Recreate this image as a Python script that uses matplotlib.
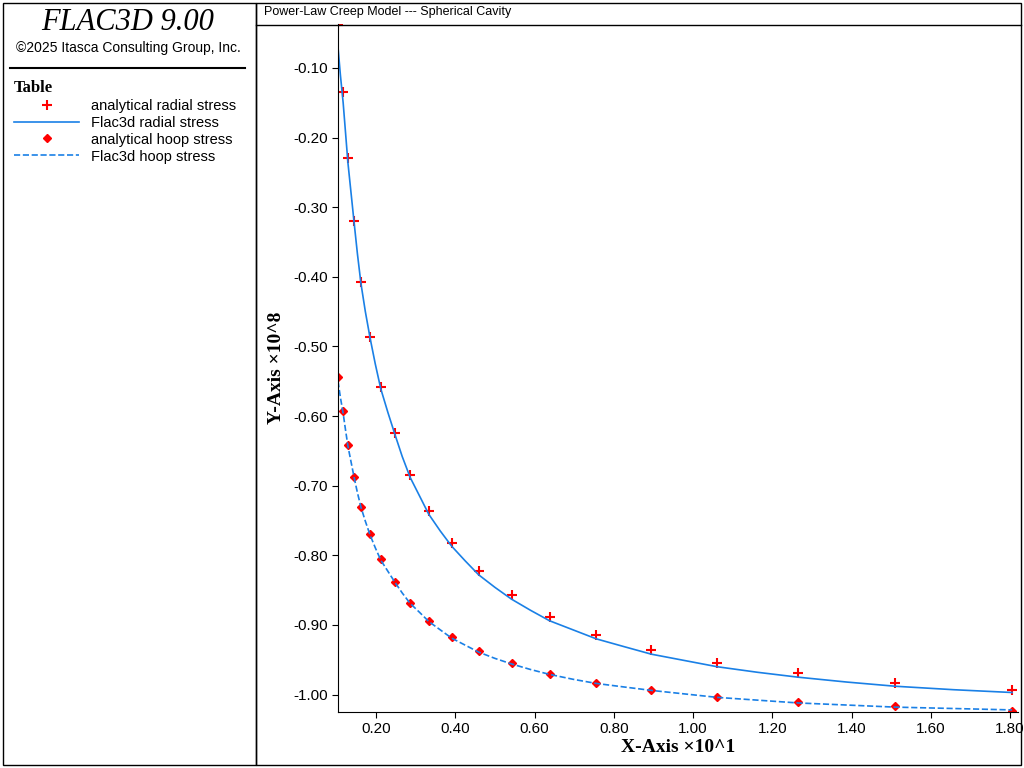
import matplotlib
matplotlib.use('Agg')
import matplotlib.pyplot as plt
from matplotlib.patches import Rectangle

matplotlib.rcParams['font.family'] = 'Liberation Sans'

# x in units of 10^1, stress in units of 10^8
x_analytical = [0.104, 0.117, 0.129, 0.145, 0.162, 0.185, 0.212, 0.248, 0.286, 0.333,
                0.391, 0.459, 0.542, 0.638, 0.756, 0.895, 1.061, 1.265, 1.510, 1.805]
radial_analytical = [-0.038, -0.135, -0.229, -0.320, -0.408, -0.486, -0.559, -0.625, -0.685, -0.737,
                     -0.782, -0.822, -0.857, -0.889, -0.915, -0.936, -0.955, -0.969, -0.984, -0.993]
hoop_analytical = [-0.544, -0.593, -0.641, -0.688, -0.730, -0.770, -0.806, -0.838, -0.868, -0.894,
                   -0.918, -0.938, -0.955, -0.970, -0.983, -0.993, -1.003, -1.010, -1.017, -1.023]

x_flac = [0.104, 0.110, 0.117, 0.123, 0.129, 0.137, 0.145, 0.153, 0.162, 0.173, 0.185, 0.198,
          0.212, 0.230, 0.248, 0.266, 0.286, 0.310, 0.333, 0.362, 0.391, 0.425, 0.459, 0.500,
          0.542, 0.590, 0.638, 0.697, 0.756, 0.825, 0.895, 0.978, 1.061, 1.163, 1.265, 1.388,
          1.510, 1.658, 1.805]
radial_flac = [-0.070, -0.110, -0.150, -0.193, -0.236, -0.280, -0.324, -0.367, -0.410, -0.450,
               -0.488, -0.525, -0.561, -0.595, -0.627, -0.658, -0.688, -0.715, -0.741, -0.765,
               -0.787, -0.808, -0.828, -0.846, -0.863, -0.879, -0.894, -0.907, -0.920, -0.931,
               -0.942, -0.951, -0.960, -0.968, -0.975, -0.982, -0.988, -0.993, -0.997]
hoop_flac = [-0.550, -0.573, -0.596, -0.620, -0.643, -0.666, -0.689, -0.710, -0.731, -0.751,
             -0.771, -0.789, -0.807, -0.823, -0.839, -0.854, -0.869, -0.882, -0.895, -0.907,
             -0.919, -0.929, -0.939, -0.948, -0.956, -0.964, -0.971, -0.978, -0.984, -0.989,
             -0.994, -0.999, -1.004, -1.008, -1.012, -1.015, -1.018, -1.020, -1.022]

x_ticks = [0.2, 0.4, 0.6, 0.8, 1.0, 1.2, 1.4, 1.6, 1.8]
y_ticks = [-0.1, -0.2, -0.3, -0.4, -0.5, -0.6, -0.7, -0.8, -0.9, -1.0]

fig = plt.figure(figsize=(10.24, 7.68), dpi=100)

# outer panels
fig.patches.append(Rectangle((3 / 1024, 3 / 768), 253 / 1024, 762 / 768, transform=fig.transFigure,
                             fill=False, edgecolor='black', lw=1))
fig.patches.append(Rectangle((256 / 1024, 3 / 768), 765 / 1024, 762 / 768, transform=fig.transFigure,
                             fill=False, edgecolor='black', lw=1))
fig.lines.append(plt.Line2D([256 / 1024, 1021 / 1024], [743 / 768, 743 / 768], transform=fig.transFigure,
                            color='black', lw=1))
fig.lines.append(plt.Line2D([10 / 1024, 245 / 1024], [700 / 768, 700 / 768], transform=fig.transFigure,
                            color='black', lw=1.5))

fig.text(128 / 1024, 746 / 768, 'FLAC3D 9.00', ha='center', va='center', fontsize=22,
         family='Liberation Serif', style='italic')
fig.text(128 / 1024, 720 / 768, '\u00a92025 Itasca Consulting Group, Inc.', ha='center', va='center', fontsize=10)
fig.text(264 / 1024, 756 / 768, 'Power-Law Creep Model --- Spherical Cavity', ha='left', va='center', fontsize=9)

ax = fig.add_axes([338 / 1024, 56 / 768, 680 / 1024, 688 / 768])
ax.plot(x_analytical, radial_analytical, '+', color='red', ms=7, mew=1.5, label='analytical radial stress')
ax.plot(x_flac, radial_flac, '-', color='#1a80e6', lw=1.2, label='Flac3d radial stress')
ax.plot(x_analytical, hoop_analytical, 'D', color='red', ms=4.5, label='analytical hoop stress')
ax.plot(x_flac, hoop_flac, '--', color='#1a80e6', lw=1.2, label='Flac3d hoop stress')

ax.set_xlim(0.104, 1.82)
ax.set_ylim(-1.025, -0.037)
ax.set_xticks(x_ticks)
ax.set_xticklabels([f'{v:.2f}' for v in x_ticks])
ax.set_yticks(y_ticks)
ax.set_yticklabels([f'{v:.2f}' for v in y_ticks])
ax.tick_params(labelsize=11, direction='out', length=4)
for s in ['top', 'right']:
    ax.spines[s].set_visible(False)
ax.set_xlabel('X-Axis \u00d710^1', family='Liberation Serif', fontweight='bold', fontsize=14, labelpad=2)
ax.set_ylabel('Y-Axis \u00d710^8', family='Liberation Serif', fontweight='bold', fontsize=14, labelpad=6)

leg = fig.legend(loc='upper left', bbox_to_anchor=(8 / 1024, 694 / 768), frameon=False, fontsize=10.5,
                 title='Table', title_fontsize=12, handlelength=4.5, labelspacing=0.2, borderaxespad=0)
leg.get_title().set_fontweight('bold')
leg.get_title().set_family('Liberation Serif')
leg._legend_box.align = 'left'

plt.savefig('out.png')
